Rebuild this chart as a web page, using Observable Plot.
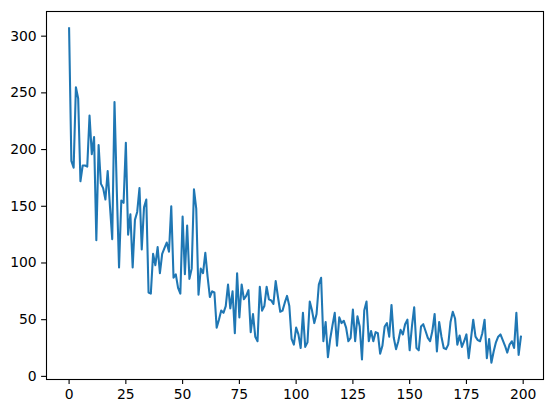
<!DOCTYPE html>
<html>
<head>
<meta charset="utf-8">
<script src="https://cdn.jsdelivr.net/npm/d3@7"></script>
<script src="https://cdn.jsdelivr.net/npm/@observablehq/plot@0.6"></script>
<style>
  html, body { margin: 0; padding: 0; background: white; }
</style>
</head>
<body>
<div id="chart"></div>
<script>
const values = [
  307, 190, 184, 255, 245, 172, 186, 186, 185, 230,
  196, 211, 120, 204, 170, 166, 156, 181, 150, 121,
  242, 165, 96, 155, 153, 206, 125, 143, 96, 138,
  145, 166, 112, 149, 156, 74, 73, 108, 98, 114,
  91, 108, 113, 118, 110, 150, 87, 90, 78, 73,
  141, 90, 133, 86, 95, 165, 148, 72, 95, 91,
  109, 88, 70, 75, 74, 43, 50, 58, 56, 62,
  81, 60, 75, 38, 91, 52, 81, 68, 71, 76,
  39, 55, 35, 31, 79, 58, 62, 79, 68, 67,
  64, 84, 70, 57, 58, 65, 71, 62, 33, 28,
  43, 37, 25, 56, 26, 30, 66, 58, 47, 55,
  81, 87, 31, 48, 17, 33, 45, 56, 27, 52,
  47, 49, 43, 31, 34, 59, 31, 53, 44, 15,
  58, 66, 31, 40, 31, 39, 38, 20, 27, 44,
  47, 35, 63, 34, 24, 31, 41, 37, 46, 50,
  23, 44, 61, 25, 23, 44, 46, 40, 34, 31,
  40, 55, 22, 48, 35, 25, 24, 28, 48, 57,
  51, 28, 36, 26, 31, 37, 16, 33, 50, 35,
  32, 31, 38, 50, 16, 33, 12, 22, 30, 35,
  37, 32, 27, 21, 28, 31, 25, 56, 19, 35
];
const xTicks = [0, 25, 50, 75, 100, 125, 150, 175, 200];
const yTicks = [0, 50, 100, 150, 200, 250, 300];

const data = values.map((v, i) => ({i, v}));

const chart = Plot.plot({
  width: 552,
  height: 413,
  marginLeft: 46,
  marginRight: 9,
  marginTop: 11,
  marginBottom: 34,
  style: {
    fontFamily: "DejaVu Sans",
    fontSize: "13.9px",
    background: "white",
    color: "black"
  },
  x: {domain: [-9.95, 208.95], label: null},
  y: {domain: [-2.75, 321.75], label: null},
  marks: [
    Plot.axisX({ticks: xTicks, tickSize: 4.9, tickPadding: 4.9, label: null, strokeWidth: 1.1}),
    Plot.axisY({ticks: yTicks, tickSize: 4.9, tickPadding: 4.9, label: null, strokeWidth: 1.1}),
    Plot.lineY(data, {x: "i", y: "v", stroke: "#1f77b4", strokeWidth: 2.08, strokeLinejoin: "round", strokeLinecap: "square"}),
    Plot.frame({stroke: "black", strokeWidth: 1.1})
  ]
});
document.getElementById("chart").appendChild(chart);
</script>
</body>
</html>
